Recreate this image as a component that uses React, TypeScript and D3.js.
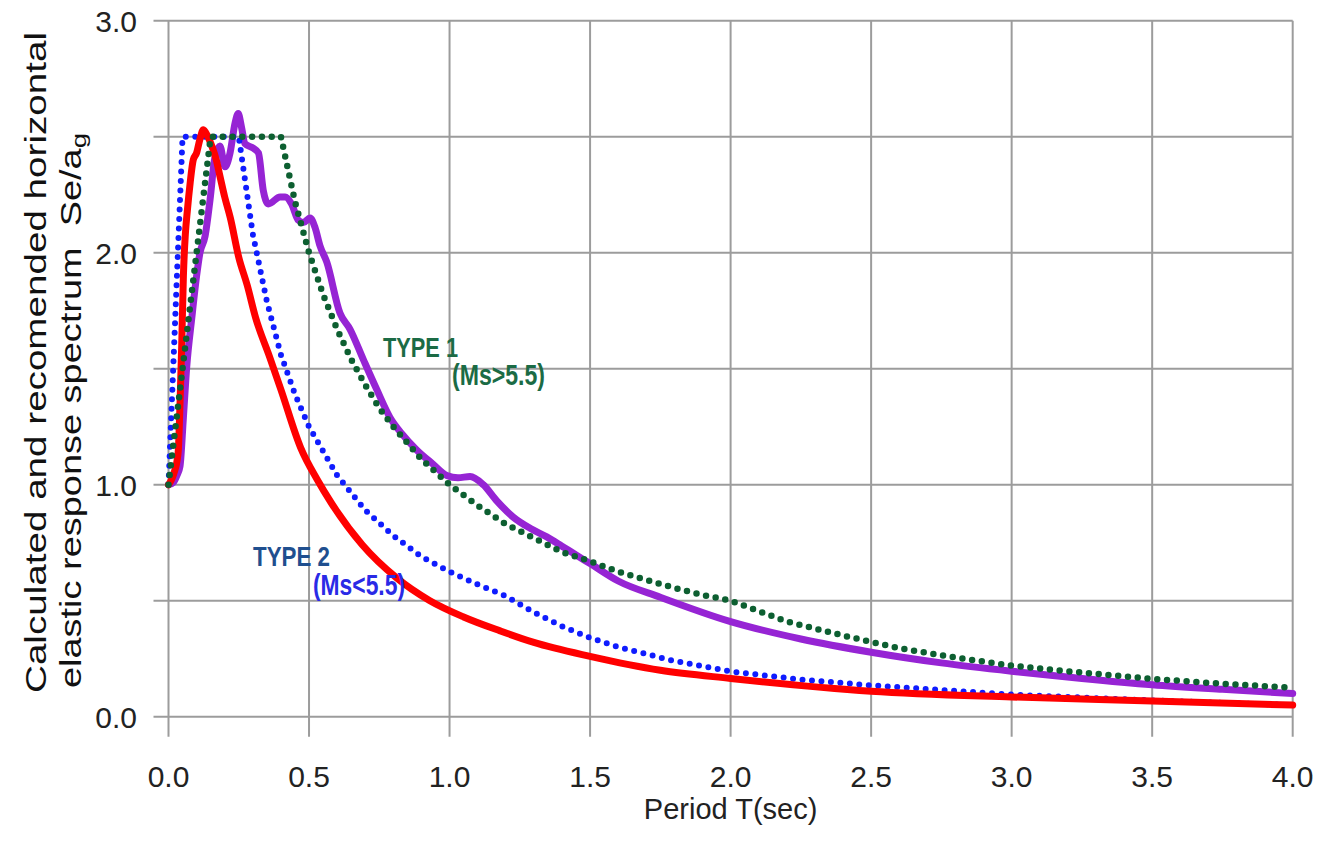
import React from "react";
import * as d3 from "d3";

// axis ticks
const periodTicks = [0, 0.5, 1.0, 1.5, 2.0, 2.5, 3.0, 3.5, 4.0];
const seGrid = [0, 0.5, 1.0, 1.5, 2.0, 2.5, 3.0];
const seLabels = [0, 1.0, 2.0, 3.0];

// calculated spectrum, type 1 (purple)
const calc1T = [0, 0.017, 0.03, 0.041, 0.053, 0.065, 0.083, 0.1, 0.112, 0.13, 0.148, 0.165, 0.183, 0.201, 0.219, 0.237, 0.248, 0.26, 0.272, 0.302, 0.32, 0.337, 0.355, 0.397, 0.415, 0.438, 0.462, 0.48, 0.504, 0.521, 0.539, 0.563, 0.61, 0.646, 0.693, 0.741, 0.788, 0.83, 0.883, 0.94, 0.99, 1.03, 1.073, 1.12, 1.168, 1.227, 1.29, 1.346, 1.4, 1.453, 1.5, 1.6, 1.75, 2.0, 2.25, 2.5, 2.75, 3.0, 3.25, 3.5, 3.75, 4.0];
const calc1Se = [1.0, 1.01, 1.04, 1.08, 1.29, 1.51, 1.72, 1.9, 2.0, 2.07, 2.23, 2.41, 2.46, 2.37, 2.43, 2.56, 2.6, 2.54, 2.47, 2.45, 2.43, 2.27, 2.21, 2.24, 2.24, 2.21, 2.14, 2.13, 2.15, 2.11, 2.03, 1.96, 1.74, 1.67, 1.54, 1.41, 1.29, 1.22, 1.15, 1.09, 1.04, 1.03, 1.035, 1.0, 0.93, 0.86, 0.81, 0.775, 0.735, 0.695, 0.66, 0.585, 0.515, 0.41, 0.335, 0.278, 0.232, 0.196, 0.165, 0.138, 0.118, 0.1];

// calculated spectrum, type 2 (red)
const calc2T = [0, 0.01, 0.022, 0.03, 0.035, 0.041, 0.047, 0.053, 0.06, 0.067, 0.077, 0.088, 0.1, 0.112, 0.124, 0.14, 0.154, 0.17, 0.183, 0.2, 0.22, 0.25, 0.28, 0.31, 0.36, 0.4, 0.47, 0.53, 0.58, 0.69, 0.81, 0.93, 1.05, 1.18, 1.3, 1.5, 1.75, 2.0, 2.5, 3.0, 3.5, 4.0];
const calc2Se = [1.0, 1.02, 1.06, 1.1, 1.15, 1.35, 1.6, 1.9, 2.08, 2.18, 2.3, 2.4, 2.43, 2.49, 2.53, 2.5, 2.46, 2.4, 2.33, 2.24, 2.15, 1.98, 1.86, 1.72, 1.55, 1.41, 1.16, 1.02, 0.92, 0.74, 0.6, 0.5, 0.43, 0.37, 0.32, 0.26, 0.2, 0.165, 0.11, 0.085, 0.068, 0.05];

// recommended spectrum, type 1 (green dotted)
const rec1T = [0, 0.15, 0.4, 0.45, 0.5, 0.55, 0.6, 0.65, 0.7, 0.75, 0.8, 0.9, 1.0, 1.1, 1.2, 1.3, 1.4, 1.5, 1.6, 1.7, 1.8, 1.9, 2.0, 2.2, 2.4, 2.6, 2.8, 3.0, 3.25, 3.5, 3.75, 4.0];
const rec1Se = [1.0, 2.5, 2.5, 2.22, 2.0, 1.82, 1.67, 1.54, 1.43, 1.33, 1.25, 1.11, 1.0, 0.91, 0.83, 0.77, 0.71, 0.67, 0.625, 0.59, 0.555, 0.525, 0.5, 0.41, 0.35, 0.295, 0.255, 0.22, 0.19, 0.163, 0.142, 0.125];

// recommended spectrum, type 2 (blue dotted)
const rec2T = [0, 0.05, 0.25, 0.3, 0.35, 0.4, 0.45, 0.5, 0.6, 0.7, 0.8, 0.9, 1.0, 1.1, 1.2, 1.3, 1.4, 1.5, 1.6, 1.8, 2.0, 2.25, 2.5, 2.75, 3.0, 3.5, 4.0];
const rec2Se = [1.0, 2.5, 2.5, 2.08, 1.79, 1.56, 1.39, 1.25, 1.04, 0.89, 0.78, 0.69, 0.625, 0.57, 0.52, 0.45, 0.39, 0.34, 0.3, 0.24, 0.195, 0.16, 0.135, 0.115, 0.095, 0.07, 0.05];

const font = "'Liberation Sans', Arial, sans-serif";

const zip = (t: number[], s: number[]) => t.map((v, i) => [v, s[i]] as [number, number]);

export default function App() {
  const width = 1326;
  const height = 844;
  const left = 168.5;
  const right = 1292.7;
  const top = 20.7;
  const bottom = 716.7;

  const x = d3.scaleLinear().domain([0, 4]).range([left, right]);
  const y = d3.scaleLinear().domain([0, 3]).range([bottom, top]);

  const line = d3
    .line<[number, number]>()
    .x((d) => x(d[0]))
    .y((d) => y(d[1]));

  const smooth = d3
    .line<[number, number]>()
    .x((d) => x(d[0]))
    .y((d) => y(d[1]))
    .curve(d3.curveMonotoneX);

  const grid = "#9c9c9c";

  return (
    <div style={{ position: "absolute", left: 0, top: 0, background: "#fff" }}>
      <svg width={width} height={height} style={{ display: "block" }}>
        <rect width={width} height={height} fill="#fff" />

        {/* grid + ticks */}
        {seGrid.map((v) => (
          <line key={"h" + v} x1={left - 15} x2={right} y1={y(v)} y2={y(v)} stroke={grid} strokeWidth={2} />
        ))}
        {periodTicks.map((v) => (
          <line key={"v" + v} x1={x(v)} x2={x(v)} y1={top} y2={bottom + 20} stroke={grid} strokeWidth={2} />
        ))}

        {/* tick labels */}
        {seLabels.map((v) => (
          <text key={"yl" + v} x={137} y={y(v)} dy="0.36em" textAnchor="end" fontFamily={font} fontSize={30} fill="#222">
            {v.toFixed(1)}
          </text>
        ))}
        {periodTicks.map((v) => (
          <text key={"xl" + v} x={x(v)} y={787} textAnchor="middle" fontFamily={font} fontSize={30} fill="#222">
            {v.toFixed(1)}
          </text>
        ))}

        {/* curves */}
        <path d={smooth(zip(calc1T, calc1Se)) || ""} fill="none" stroke="#9624d4" strokeWidth={7} strokeLinejoin="round" strokeLinecap="round" />
        <path d={line(zip(rec2T, rec2Se)) || ""} fill="none" stroke="#0f1cff" strokeWidth={6} strokeDasharray="0 9.5" strokeLinecap="round" />
        <path d={smooth(zip(calc2T, calc2Se)) || ""} fill="none" stroke="#ff0000" strokeWidth={7} strokeLinejoin="round" strokeLinecap="round" />
        <path d={line(zip(rec1T, rec1Se)) || ""} fill="none" stroke="#0d5f31" strokeWidth={6.5} strokeDasharray="0 9.8" strokeLinecap="round" />

        {/* annotations */}
        <text x={383} y={357} fontFamily={font} fontWeight="bold" fontSize={28} fill="#1b6b45" textLength={75} lengthAdjust="spacingAndGlyphs">
          TYPE 1
        </text>
        <text x={452} y={385} fontFamily={font} fontWeight="bold" fontSize={29} fill="#1b6b45" textLength={93} lengthAdjust="spacingAndGlyphs">
          (Ms&gt;5.5)
        </text>
        <text x={253} y={565.5} fontFamily={font} fontWeight="bold" fontSize={28} fill="#1f4f8f" textLength={77} lengthAdjust="spacingAndGlyphs">
          TYPE 2
        </text>
        <text x={313} y={595} fontFamily={font} fontWeight="bold" fontSize={29} fill="#2a2ae6" textLength={92} lengthAdjust="spacingAndGlyphs">
          (Ms&lt;5.5)
        </text>

        {/* axis titles */}
        <text x={730.6} y={819} textAnchor="middle" fontFamily={font} fontSize={29} fill="#222">
          Period T(sec)
        </text>
        <text transform="translate(46,693) rotate(-90)" fontFamily={font} fontSize={29} fill="#111" textLength={661} lengthAdjust="spacingAndGlyphs">
          Calculated and recomended horizontal
        </text>
        <text transform="translate(81,688) rotate(-90)" fontFamily={font} fontSize={29} fill="#111" textLength={555} lengthAdjust="spacingAndGlyphs" style={{ whiteSpace: "pre" }}>
          {"elastic response spectrum  Se/a"}
          <tspan fontSize={21} dy={5}>g</tspan>
        </text>
      </svg>
    </div>
  );
}
